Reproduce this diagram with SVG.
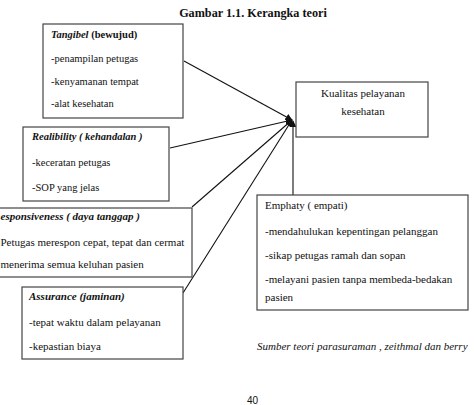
<svg xmlns="http://www.w3.org/2000/svg" width="474" height="405" viewBox="0 0 474 405">
<style>
text{font-family:"Liberation Serif","Times New Roman",serif;font-size:11px;fill:#111}
.sm{font-size:10.5px}
.box{fill:#fff;stroke:#444;stroke-width:1.2}
.b{font-weight:bold}
.bi{font-weight:bold;font-style:italic}
.i{font-style:italic}
.ln{stroke:#111;stroke-width:1.1;fill:none;marker-end:url(#ah)}
</style>
<defs>
<marker id="ah" viewBox="0 0 10 10" refX="9" refY="5" markerWidth="7" markerHeight="7" markerUnits="userSpaceOnUse" orient="auto">
<path d="M0,0 L10,5 L0,10 z" fill="#111"/>
</marker>
</defs>
<rect width="474" height="405" fill="#fff"/>
<text x="253" y="17" text-anchor="middle" class="b" style="font-size:12.2px">Gambar 1.1. Kerangka teori</text>

<g id="connectors">
<line class="ln" x1="184" y1="61" x2="292" y2="120"/>
<line class="ln" x1="170" y1="148" x2="292" y2="120"/>
<line class="ln" x1="192" y1="207" x2="292" y2="120"/>
<line class="ln" x1="183" y1="293" x2="292" y2="120"/>
<line class="ln" x1="293" y1="195" x2="293" y2="121"/>
</g>

<g id="tangibel">
<rect class="box" x="43" y="24" width="140" height="94"/>
<text x="51" y="38" class="sm"><tspan class="bi">Tangibel</tspan><tspan class="b"> (bewujud)</tspan></text>
<text x="51" y="62" class="sm">-penampilan petugas</text>
<text x="51" y="85" class="sm">-kenyamanan tempat</text>
<text x="51" y="107" class="sm">-alat kesehatan</text>
</g>

<g id="kualitas">
<rect class="box" x="296" y="82" width="132" height="55"/>
<text x="363" y="97" text-anchor="middle">Kualitas pelayanan</text>
<text x="363" y="115" text-anchor="middle">kesehatan</text>
</g>

<g id="realibility">
<rect class="box" x="23" y="127" width="146" height="74"/>
<text x="32" y="140" class="bi sm">Realibility ( kehandalan )</text>
<text x="32" y="166" class="sm">-keceratan petugas</text>
<text x="32" y="191" class="sm">-SOP yang jelas</text>
</g>

<g id="responsiveness">
<rect class="box" x="-2" y="208" width="194" height="69"/>
<text x="0.5" y="220" class="bi">esponsiveness ( daya tanggap )</text>
<text x="0.5" y="246">Petugas merespon cepat, tepat dan cermat</text>
<text x="0.5" y="268">menerima semua keluhan pasien</text>
</g>

<g id="assurance">
<rect class="box" x="22" y="287" width="161" height="72"/>
<text x="29" y="300" class="bi">Assurance (jaminan)</text>
<text x="29" y="326">-tepat waktu dalam pelayanan</text>
<text x="29" y="350">-kepastian biaya</text>
</g>

<g id="emphaty">
<rect class="box" x="257" y="195" width="211" height="115"/>
<text x="265" y="209">Emphaty ( empati)</text>
<text x="265" y="235">-mendahulukan kepentingan pelanggan</text>
<text x="265" y="259">-sikap petugas ramah dan sopan</text>
<text x="265" y="283">-melayani pasien tanpa membeda-bedakan</text>
<text x="265" y="301">pasien</text>
</g>

<text x="257" y="350" class="i">Sumber teori parasuraman , zeithmal dan berry</text>
<text x="247" y="404" style="font-family:'Liberation Sans',Arial,sans-serif;font-size:10px">40</text>
</svg>
